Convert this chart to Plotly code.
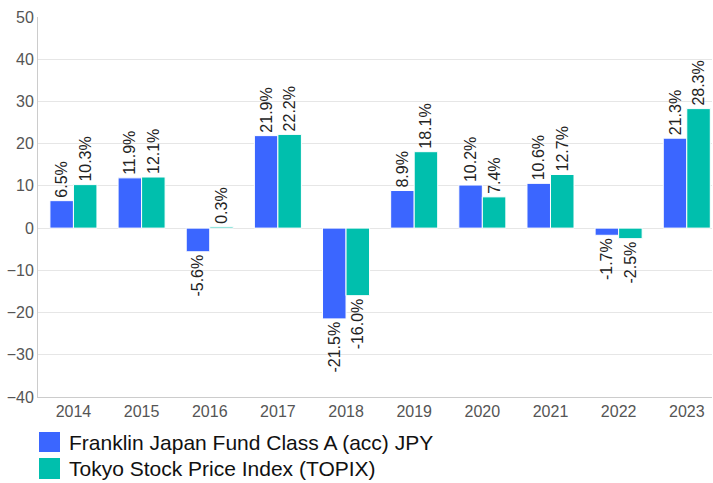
import plotly.graph_objects as go

years = ["2014", "2015", "2016", "2017", "2018", "2019", "2020", "2021", "2022", "2023"]
fund = [6.5, 11.9, -5.6, 21.9, -21.5, 8.9, 10.2, 10.6, -1.7, 21.3]
topix = [10.3, 12.1, 0.3, 22.2, -16.0, 18.1, 7.4, 12.7, -2.5, 28.3]
names = ["Franklin Japan Fund Class A (acc) JPY", "Tokyo Stock Price Index (TOPIX)"]
colors = ["#3b66ff", "#00bfad"]

W, H = 713, 483
ML, MR, MT, MB = 38, 1, 17, 86
PW, PH = W - ML - MR, H - MT - MB

fig = go.Figure()
for vals, name, col in zip([fund, topix], names, colors):
    fig.add_trace(go.Bar(
        x=years, y=vals, name=name, showlegend=False,
        marker=dict(color=col, line=dict(color="white", width=1)),
        text=[f"{v:.1f}%" for v in vals], textposition="outside",
        textangle=-90, constraintext="none", cliponaxis=False,
        textfont=dict(family="Liberation Sans, Arial", size=16, color="#222"),
    ))

def px_x(p):
    return (p - ML) / PW

def px_y(p):
    return (H - MB - p) / PH

# legend (manual, to match square size)
leg_rows = [(432, 452, 442), (458, 479, 468)]
for (y0, y1, yc), name, col in zip(leg_rows, names, colors):
    fig.add_shape(type="rect", xref="paper", yref="paper",
                  x0=px_x(39), x1=px_x(60), y0=px_y(y1), y1=px_y(y0),
                  fillcolor=col, line=dict(width=0))
    fig.add_annotation(xref="paper", yref="paper", x=px_x(67), y=px_y(yc),
                       text=name, showarrow=False, xanchor="left", yanchor="middle",
                       font=dict(family="Liberation Sans, Arial", size=21, color="#111"))

fig.update_layout(
    width=W, height=H, margin=dict(l=ML, r=MR, t=MT, b=MB, autoexpand=False),
    paper_bgcolor="white", plot_bgcolor="white",
    barmode="group", bargap=0.31, bargroupgap=0,
    font=dict(family="Liberation Sans, Arial", size=16, color="#555"),
    xaxis=dict(showgrid=False, showline=True, linecolor="#ccc", linewidth=1,
               range=[-0.52, 9.37],
               ticks="", automargin=False, tickfont=dict(size=16, color="#555")),
    yaxis=dict(range=[-40, 50], dtick=10, showgrid=True, gridcolor="#e6e6e6",
               gridwidth=1, zeroline=True, zerolinecolor="#e6e6e6", zerolinewidth=1,
               showline=True, linecolor="#ccc", linewidth=1, ticks="", automargin=False,
               tickfont=dict(size=16, color="#555")),
)

fig.write_html("out.html", post_script="document.body.style.margin='0';",
               config={"displayModeBar": False})
